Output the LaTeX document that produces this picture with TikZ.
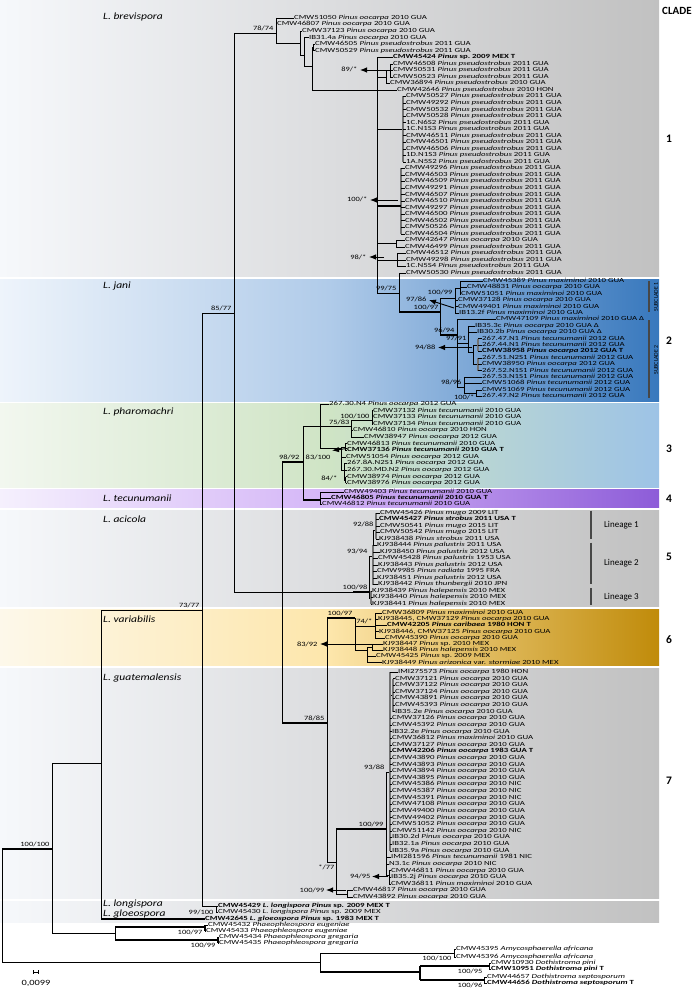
\documentclass[tikz,border=0pt]{standalone}
\usepackage{fontspec}
\setmainfont{Carlito}
\newfontfamily\leaffont[FakeStretch=1.4]{Carlito}
\newfontfamily\suppfont[FakeStretch=1.3]{Carlito}
\newfontfamily\specfont[FakeStretch=1.2]{Carlito}
\usetikzlibrary{arrows.meta,positioning}

\definecolor{BandGrayL}{HTML}{F6F8FB}
\definecolor{BandGrayM}{HTML}{DCDDDF}
\definecolor{BandGrayR}{HTML}{C1C1C1}
\definecolor{JaniL}{HTML}{EEF4FB}
\definecolor{JaniM}{HTML}{B0CBE9}
\definecolor{JaniR}{HTML}{3878BD}
\definecolor{PharoL}{HTML}{F2F7EF}
\definecolor{PharoM}{HTML}{CFE4C5}
\definecolor{PharoR}{HTML}{9DC3E6}
\definecolor{TecuL}{HTML}{F5F0FD}
\definecolor{TecuM}{HTML}{D4B5F7}
\definecolor{TecuR}{HTML}{8D5CD8}
\definecolor{VariL}{HTML}{FDF8EA}
\definecolor{VariM}{HTML}{FDE6AB}
\definecolor{VariR}{HTML}{C08B0A}

\newcommand{\Poo}{\textit{Pinus oocarpa}}
\newcommand{\Pps}{\textit{Pinus pseudostrobus}}
\newcommand{\Pte}{\textit{Pinus tecunumanii}}
\newcommand{\Pma}{\textit{Pinus maximinoi}}
\newcommand{\Ppa}{\textit{Pinus palustris}}
\newcommand{\Pha}{\textit{Pinus halepensis}}
\newcommand{\Pmu}{\textit{Pinus mugo}}
\newcommand{\Pst}{\textit{Pinus strobus}}
\newcommand{\Psp}{\textit{Pinus} sp.}

\tikzset{
    % isolate label
    leaf/.style={anchor=west, inner sep=0pt, text height=4pt, text depth=1.1pt,
        font=\leaffont\fontsize{6.3}{7}\selectfont},
    % support values
    support/.style={inner sep=0.4pt, text height=4.4pt, text depth=0.4pt,
        font=\suppfont\fontsize{6.5}{7}\selectfont},
    % branches
    branch/.style={line width=0.5pt},
    strong/.style={line width=1.4pt},
    poly/.style={line width=1.5pt, draw=black!55},
    % pointer to a support value
    callout/.style={-{Latex[length=7pt,width=5.5pt]}, line width=0.9pt},
    % species name
    species/.style={anchor=west, inner sep=0pt, font=\specfont\fontsize{9.6}{10}\selectfont\itshape},
    % clade number
    cladenum/.style={anchor=west, inner sep=0pt, font=\fontsize{11.5}{12}\selectfont\bfseries},
    % lineage and subclade bars
    groupbar/.style={line width=2.4pt, draw=black!72},
    grouplabel/.style={anchor=west, inner sep=0pt, font=\fontsize{9}{10}\selectfont}
}

\begin{document}
\begin{tikzpicture}[x=1pt, y=-1pt]
\useasboundingbox (0,0) rectangle (699,992);
\fill[white] (0,0) rectangle (699,992);

% clade bands
\shade[left color=BandGrayL, right color=BandGrayR, middle color=BandGrayM] (0,0) rectangle (659,276.5);
\shade[left color=JaniL, right color=JaniR, middle color=JaniM] (0,279) rectangle (659,401);
\shade[left color=PharoL, right color=PharoR, middle color=PharoM] (0,403.5) rectangle (659,487);
\shade[left color=TecuL, right color=TecuR, middle color=TecuM] (0,489.5) rectangle (659,507.5);
\shade[left color=BandGrayL, right color=BandGrayR, middle color=BandGrayM] (0,510) rectangle (659,606.5);
\shade[left color=VariL, right color=VariR, middle color=VariM] (0,609) rectangle (659,665.5);
\shade[left color=BandGrayL, right color=BandGrayR, middle color=BandGrayM] (0,668) rectangle (659,898.5);
\shade[left color=BandGrayL, right color=BandGrayR, middle color=BandGrayM] (0,901.5) rectangle (659,922);

% species names
\node[species] (nbre) at (103,17) {L. brevispora};
\node[species] (njan) at (103,286) {L. jani};
\node[species] (npha) at (103,412) {L. pharomachri};
\node[species] (ntec) at (103,498) {L. tecunumanii};
\node[species] (naci) at (103,519) {L. acicola};
\node[species] (nvar) at (103,619) {L. variabilis};
\node[species] (ngua) at (103,678) {L. guatemalensis};
\node[species] (nlon) at (103,904) {L. longispora};
\node[species] (nglo) at (103,914) {L. gloeospora};

% clade numbers
\node[cladenum, font=\fontsize{11}{12}\selectfont\bfseries] (clade) at (662,11) {CLADE};
\node[cladenum] (c1) at (666,139) {1};
\node[cladenum] (c2) at (666,341) {2};
\node[cladenum] (c3) at (666,449) {3};
\node[cladenum] (c4) at (666,499) {4};
\node[cladenum] (c5) at (666,557) {5};
\node[cladenum] (c6) at (666,640) {6};
\node[cladenum] (c7) at (666,781) {7};

% backbone
\draw[strong] (2,849) -- (52,849);
\draw[branch] (2,849) -- (2,962) -- (320,962)
  (52,763) -- (52,933)
  (52,763) -- (101,763)
  (101,610) -- (101,919)
  (101,610) -- (202,610)
  (202,313) -- (202,906) -- (216,906)
  (216,906) -- (216,912.5)
  (202,313) -- (234,313)
  (234,33) -- (234,592)
  (234,33) -- (276,33)
  (234,592) -- (353,592)
  (282,462) -- (282,723);
\draw[strong] (353,592) -- (369,592) (282,462) -- (303,462) (282,723) -- (327,723);
\node[support, anchor=south east] (s100r) at (50,847.5) {100/100};
\node[support, anchor=south east] (s7377) at (200,608.5) {73/77};
\node[support, anchor=south east] (s8577) at (232,311.5) {85/77};
\node[support, anchor=north east] (s99100) at (214,909) {99/100};

% clade 1
\draw[branch] (276,18) -- (276,43) -- (300,43)
  (300,31.1) -- (300,55) -- (304,55)
  (304,37.6) -- (304,66) -- (312,66)
  (312,47.5) -- (312,90)
  (312,47.5) -- (313,47.5)
  (313,44.2) -- (313,50.7)
  (312,90) -- (377,90)
  (377,57.2) -- (377,293) -- (399,293)
  (377,77) -- (386,77)
  (386,70.3) -- (386,83.4)
  (386,70.3) -- (390,70.3)
  (390,63.8) -- (390,76.9)
  (377,129) -- (403,129)
  (377,243.6) -- (396,243.6)
  (396,240.4) -- (396,246.9)
  (377,260) -- (397,260)
  (397,253.4) -- (397,266.5)
  (399,273) -- (399,312);
\draw[poly] (403,96.5) -- (403,161.9) (401,168.4) -- (401,233.8);
\draw[strong] (377,206) -- (401,206);
\foreach \px/\tx/\lab [count=\i from 0] in {
  276/294/{CMW51050 \Poo\ 2010 GUA},
  276/277/{CMW46807 \Poo\ 2010 GUA},
  300/302/{CMW37123 \Poo\ 2010 GUA},
  304/309/{IB31.4a \Poo\ 2010 GUA},
  313/315/{CMW46505 \Pps\ 2011 GUA},
  313/315/{CMW50529 \Pps\ 2011 GUA},
  377/393/{\textbf{CMW45424 \Psp\ 2009 MEX T}},
  390/393/{CMW46508 \Pps\ 2011 GUA},
  390/393/{CMW50531 \Pps\ 2011 GUA},
  390/393/{CMW50523 \Pps\ 2011 GUA},
  386/390/{CMW36894 \Pps\ 2010 GUA},
  377/397/{CMW42646 \Pps\ 2010 HON},
  403/406/{CMW50527 \Pps\ 2011 GUA},
  403/406/{CMW49292 \Pps\ 2011 GUA},
  403/406/{CMW50532 \Pps\ 2011 GUA},
  403/406/{CMW50528 \Pps\ 2011 GUA},
  403/406/{1C.N6S2 \Pps\ 2011 GUA},
  403/406/{1C.N1S3 \Pps\ 2011 GUA},
  403/406/{CMW46511 \Pps\ 2011 GUA},
  403/406/{CMW46501 \Pps\ 2011 GUA},
  403/406/{CMW46506 \Pps\ 2011 GUA},
  403/406/{1D.N1S3 \Pps\ 2011 GUA},
  403/406/{1A.N5S2 \Pps\ 2011 GUA},
  401/405/{CMW49296 \Pps\ 2011 GUA},
  401/405/{CMW46503 \Pps\ 2011 GUA},
  401/405/{CMW46509 \Pps\ 2011 GUA},
  401/405/{CMW49291 \Pps\ 2011 GUA},
  401/405/{CMW46507 \Pps\ 2011 GUA},
  401/405/{CMW46510 \Pps\ 2011 GUA},
  401/405/{CMW49297 \Pps\ 2011 GUA},
  401/405/{CMW46500 \Pps\ 2011 GUA},
  401/405/{CMW46502 \Pps\ 2011 GUA},
  401/405/{CMW50526 \Pps\ 2011 GUA},
  401/405/{CMW46504 \Pps\ 2011 GUA},
  396/405/{CMW42647 \Poo\ 2010 GUA},
  396/405/{CMW46499 \Pps\ 2011 GUA},
  397/406/{CMW46512 \Pps\ 2011 GUA},
  397/406/{CMW49298 \Pps\ 2011 GUA},
  397/406/{1C.N5S4 \Pps\ 2011 GUA},
  399/406/{CMW50530 \Pps\ 2011 GUA}}{
  \pgfmathsetmacro\yy{18+6.54*\i}
  \node[leaf] (br\i) at (\tx,\yy) {\lab};
  \draw[branch] (\px,\yy) -- (br\i.west);
}
\node[support, anchor=south east] (s7874) at (274,32) {78/74};
\draw[callout] (387,70) -- (360,70);
\node[support, anchor=east] (s89) at (358,70) {89/*};
\draw[callout] (398,200) -- (370,200);
\node[support, anchor=east] (s100a) at (368,200) {100/*};
\draw[callout] (384,257) -- (369,257);
\node[support, anchor=east] (s98) at (367,257) {98/*};
\node[support, anchor=south east] (s9975) at (397,291.5) {99/75};

% clade 2
\draw[strong] (399,312) -- (440,312) (440,335) -- (457,335);
\draw[branch] (440,298) -- (440,335)
  (440,298) -- (455,298)
  (455,288) -- (455,313)
  (455,288) -- (460,288)
  (460,281) -- (460,293.8)
  (457,319.4) -- (457,387)
  (457,343) -- (468,343)
  (468,325.8) -- (468,352) -- (473,352)
  (473,345) -- (473,364)
  (473,345) -- (478,345)
  (473,364) -- (478,364)
  (457,387) -- (464,387)
  (464,377) -- (464,393) -- (476,393)
  (476,389.8) -- (476,396.2);
\draw[poly] (478,338.6) -- (478,351.4) (478,357.8) -- (478,370.6);
\foreach \px/\tx/\lab [count=\i from 0] in {
  460/483/{CMW45389 \Pma\ 2010 GUA},
  460/467/{CMW48831 \Poo\ 2010 GUA},
  460/461/{CMW51051 \Pma\ 2010 GUA},
  455/458/{CMW37128 \Poo\ 2010 GUA},
  455/458/{CMW49401 \Pma\ 2010 GUA},
  455/459/{IB13.2f \Pma\ 2010 GUA},
  457/496/{CMW47109 \Pma\ 2010 GUA Δ},
  468/475/{IB35.3c \Poo\ 2010 GUA Δ},
  468/477/{IB30.2b \Poo\ 2010 GUA Δ},
  478/482/{267.47.N1 \Pte\ 2012 GUA},
  478/482/{267.44.N1 \Pte\ 2012 GUA},
  478/482/{\textbf{CMW38958 \Poo\ 2012 GUA T}},
  478/482/{267.51.N2S1 \Pte\ 2012 GUA},
  478/482/{CMW38950 \Poo\ 2012 GUA},
  478/482/{267.52.N1S1 \Pte\ 2012 GUA},
  464/482/{267.53.N1S1 \Pte\ 2012 GUA},
  464/482/{CMW51068 \Pte\ 2012 GUA},
  476/482/{CMW51069 \Pte\ 2012 GUA},
  476/482/{267.47.N2 \Pte\ 2012 GUA}}{
  \pgfmathsetmacro\yy{281+6.4*\i}
  \node[leaf] (ja\i) at (\tx,\yy) {\lab};
  \draw[branch] (\px,\yy) -- (ja\i.west);
}
\node[support, anchor=south east] (s10097a) at (439,310.5) {100/97};
\node[support, anchor=east] (s10099a) at (453,292.5) {100/99};
\draw[callout] (454,308) -- (429,300);
\node[support, anchor=east] (s9786) at (427,299) {97/86};
\node[support, anchor=south east] (s9694) at (455,333.5) {96/94};
\node[support, anchor=south east] (s9791) at (467,341.5) {97/91};
\draw[callout] (472,347.5) -- (438,347.5);
\node[support, anchor=east] (s9488) at (436,347.5) {94/88};
\node[support, anchor=south east] (s9896) at (462,385.5) {98/96};
\node[support, anchor=east] (s100b) at (475,397.5) {100/*};
\draw[groupbar] (649,281) -- (649,312) (649,320) -- (649,398);
\node[rotate=90, inner sep=0pt, font=\fontsize{5.8}{6}\selectfont] (sub1) at (656,297) {SUBCLADE 1};
\node[rotate=90, inner sep=0pt, font=\fontsize{5.8}{6}\selectfont] (sub2) at (656,360) {SUBCLADE 2};

% clade 3
\draw[branch] (303,426) -- (303,500)
  (303,426) -- (351,426)
  (320,404) -- (320,448) -- (341,448)
  (351,420) -- (351,437)
  (351,420) -- (372,420)
  (372,410.6) -- (372,423.8)
  (341,447) -- (341,470) -- (344,470)
  (341,447) -- (345,447)
  (345,443.6) -- (345,450.2)
  (344,463.4) -- (344,480) -- (345.5,480)
  (345.5,476.6) -- (345.5,483.2);
\foreach \px/\tx/\lab [count=\i from 0] in {
  320/329/{267.30.N4 \Poo\ 2012 GUA},
  372/373/{CMW37132 \Pte\ 2010 GUA},
  372/373/{CMW37133 \Pte\ 2010 GUA},
  372/373/{CMW37134 \Pte\ 2010 GUA},
  351/353/{CMW46810 \Poo\ 2010 HON},
  351/364/{CMW38947 \Poo\ 2012 GUA},
  345/347/{CMW46813 \Pte\ 2010 GUA},
  345/347/{\textbf{CMW37136 \Pte\ 2010 GUA T}},
  341/346/{CMW51054 \Poo\ 2012 GUA},
  344/347/{267.8A.N2S1 \Poo\ 2012 GUA},
  344/347/{267.30.MD.N2 \Poo\ 2012 GUA},
  345.5/347/{CMW38974 \Poo\ 2012 GUA},
  345.5/347/{CMW38976 \Poo\ 2012 GUA}}{
  \pgfmathsetmacro\yy{404+6.6*\i}
  \node[leaf] (ph\i) at (\tx,\yy) {\lab};
  \draw[branch] (\px,\yy) -- (ph\i.west);
}
\node[support, anchor=south east] (s9892) at (300,460) {98/92};
\node[support, anchor=south east] (s7583) at (350,425.5) {75/83};
\node[support, anchor=south east] (s100100) at (370,419) {100/100};
\draw[callout] (347,448.5) -- (332,450.5);
\node[support, anchor=east] (s83100) at (331,457) {83/100};
\node[support, anchor=east] (s84) at (338,478) {84/*};

% clade 4
\draw[strong] (303,500) -- (320,500);
\draw[branch] (320,492) -- (320,504);
\foreach \y/\px/\tx/\lab [count=\i] in {
  492/320/344/{CMW49403 \Pte\ 2010 GUA},
  498/320/331/{\textbf{CMW46805 \Pte\ 2010 GUA T}},
  504/320/322/{CMW46812 \Pte\ 2010 GUA}}{
  \node[leaf] (te\i) at (\tx,\y) {\lab};
  \draw[branch] (\px,\y) -- (te\i.west);
}

% clade 5
\draw[branch] (369,556) -- (369,598) -- (371,598)
  (369,556) -- (373,556)
  (373,530) -- (373,545)
  (373,530) -- (376,530);
\draw[poly] (371,591) -- (371,604) (373,545) -- (373,584.5) (376,513) -- (376,539);
\foreach \px/\tx/\lab [count=\i from 0] in {
  376/380/{CMW45426 \Pmu\ 2009 LIT},
  376/379/{\textbf{CMW45427 \Pst\ 2011 USA T}},
  376/380/{CMW50541 \Pmu\ 2015 LIT},
  376/380/{CMW50542 \Pmu\ 2015 LIT},
  376/379/{KJ938438 \Pst\ 2011 USA},
  373/377/{KJ938444 \Ppa\ 2011 USA},
  373/380/{KJ938450 \Ppa\ 2012 USA},
  373/378/{CMW45428 \Ppa\ 1953 USA},
  373/378/{KJ938443 \Ppa\ 2012 USA},
  373/377/{CMW9985 \textit{Pinus radiata} 1995 FRA},
  373/377/{KJ938451 \Ppa\ 2012 USA},
  373/378/{KJ938442 \textit{Pinus thunbergii} 2010 JPN},
  371/372/{KJ938439 \Pha\ 2010 MEX},
  371/373/{KJ938440 \Pha\ 2010 MEX},
  371/372/{KJ938441 \Pha\ 2010 MEX}}{
  \pgfmathsetmacro\yy{513+6.5*\i}
  \node[leaf] (ac\i) at (\tx,\yy) {\lab};
  \draw[branch] (\px,\yy) -- (ac\i.west);
}
\node[support, anchor=south east] (s10098) at (368,590) {100/98};
\node[support, anchor=south east] (s9394) at (368,554) {93/94};
\node[support, anchor=east] (s9288) at (374,524) {92/88};
\draw[groupbar] (591,510.5) -- (591,539) (591,542.5) -- (591,584) (591,588) -- (591,604.5);
\node[grouplabel] (lin1) at (604,525) {Lineage 1};
\node[grouplabel] (lin2) at (604,563) {Lineage 2};
\node[grouplabel] (lin3) at (604,597) {Lineage 3};

% clade 6
\draw[strong] (327,618) -- (355,618);
\draw[branch] (327,618) -- (327,862) -- (336,862)
  (355,618) -- (355,650) -- (367,650)
  (355,626) -- (375,626)
  (375,613) -- (375,637.8)
  (367,647) -- (367,662.6)
  (367,647) -- (372,647)
  (372,644) -- (372,650.2);
\foreach \px/\tx/\lab [count=\i from 0] in {
  375/382/{CMW36809 \Pma\ 2010 GUA},
  375/378/{KJ938445, CMW37129 \Poo\ 2010 GUA},
  375/387/{\textbf{CMW42205 \textit{Pinus caribaea} 1980 HON T}},
  375/379/{KJ938446, CMW37125 \Poo\ 2010 GUA},
  375/385/{CMW45390 \Poo\ 2010 GUA},
  372/383/{KJ938447 \Psp\ 2010 MEX},
  372/383/{KJ938448 \Pha\ 2010 MEX},
  367/376/{CMW45425 \Psp\ 2009 MEX},
  367/382/{KJ938449 \textit{Pinus arizonica} var. \textit{stormiae} 2010 MEX}}{
  \pgfmathsetmacro\yy{613+6.2*\i}
  \node[leaf] (va\i) at (\tx,\yy) {\lab};
  \draw[branch] (\px,\yy) -- (va\i.west);
}
\node[support, anchor=south east] (s7885) at (325,721) {78/85};
\node[support, anchor=south east] (s10097b) at (353,616) {100/97};
\node[support, anchor=south east] (s74) at (373,624.5) {74/*};
\draw[callout] (376,644) -- (320,644);
\node[support, anchor=east] (s8392) at (318,644) {83/92};

% clade 7
\draw[strong] (336,829) -- (386,829);
\draw[branch] (336,829) -- (336,894) -- (347,894)
  (347,890.5) -- (347,897.1)
  (386,772) -- (386,875) -- (389,875)
  (386,772) -- (390,772)
  (389,870.6) -- (389,883.8)
  (390,695) -- (393,695);
\draw[poly] (390,672) -- (390,850.7) (393,678.6) -- (393,711.7);
\foreach \px/\tx/\lab [count=\i from 0] in {
  390/398/{IMI275573 \Poo\ 1980 HON},
  393/395/{CMW37121 \Poo\ 2010 GUA},
  393/395/{CMW37122 \Poo\ 2010 GUA},
  393/395/{CMW37124 \Poo\ 2010 GUA},
  393/395/{CMW43891 \Poo\ 2010 GUA},
  393/395/{CMW45393 \Poo\ 2010 GUA},
  393/395/{IB35.2e \Poo\ 2010 GUA},
  390/392/{CMW37126 \Poo\ 2010 GUA},
  390/392/{CMW45392 \Poo\ 2010 GUA},
  390/392/{IB32.2e \Poo\ 2010 GUA},
  390/392/{CMW36812 \Pma\ 2010 GUA},
  390/392/{CMW37127 \Poo\ 2010 GUA},
  390/392/{\textbf{CMW42206 \Poo\ 1983 GUA T}},
  390/392/{CMW43890 \Poo\ 2010 GUA},
  390/392/{CMW43893 \Poo\ 2010 GUA},
  390/392/{CMW43894 \Poo\ 2010 GUA},
  390/392/{CMW43895 \Poo\ 2010 GUA},
  390/392/{CMW45386 \Poo\ 2010 NIC},
  390/392/{CMW45387 \Poo\ 2010 NIC},
  390/392/{CMW45391 \Poo\ 2010 NIC},
  390/392/{CMW47108 \Poo\ 2010 GUA},
  390/392/{CMW49400 \Poo\ 2010 GUA},
  390/392/{CMW49402 \Poo\ 2010 GUA},
  390/392/{CMW51052 \Poo\ 2010 GUA},
  390/392/{CMW51142 \Poo\ 2010 NIC},
  390/392/{IB30.2d \Poo\ 2010 GUA},
  390/392/{IB32.1a \Poo\ 2010 GUA},
  390/392/{IB35.9a \Poo\ 2010 GUA},
  386/391/{IMI281596 \Pte\ 1981 NIC},
  386/389/{N3.1c \Poo\ 2010 NIC},
  389/391/{CMW46811 \Poo\ 2010 GUA},
  389/391/{IB35.2j \Poo\ 2010 GUA},
  389/391/{CMW36811 \Pma\ 2010 GUA},
  347/353/{CMW46817 \Poo\ 2010 GUA},
  347/353/{CMW43892 \Poo\ 2010 GUA}}{
  \pgfmathsetmacro\yy{672+6.62*\i}
  \node[leaf] (gu\i) at (\tx,\yy) {\lab};
  \draw[branch] (\px,\yy) -- (gu\i.west);
}
\node[support, anchor=south east] (s9388) at (385,770) {93/88};
\node[support, anchor=south east] (s10099b) at (384,827) {100/99};
\node[support, anchor=north east] (s77) at (335,864) {*/77};
\draw[callout] (388,876.5) -- (372,876.5);
\node[support, anchor=east] (s9495) at (371,876.5) {94/95};
\draw[callout] (346,890) -- (326,890);
\node[support, anchor=east] (s10099c) at (325,890) {100/99};

% L. longispora and L. gloeospora
\foreach \y/\tx/\lab [count=\i] in {
  906/218/{\textbf{CMW45429 \textit{L. longispora Pinus} sp. 2009 MEX T}},
  912.5/218/{CMW45430 \textit{L. longispora Pinus} sp. 2009 MEX}}{
  \node[leaf] (lo\i) at (\tx,\y) {\lab};
  \draw[branch] (216,\y) -- (lo\i.west);
}
\node[leaf] (gl) at (205,919) {\textbf{CMW42645 \textit{L. gloeospora Pinus} sp. 1983 MEX T}};
\draw[strong] (101,919) -- (gl.west);

% Phaeophleospora
\draw[branch] (52,933) -- (115,933) (115,927) -- (115,940);
\draw[strong] (115,927) -- (205,927) (205,925) -- (205,931) (115,940) -- (218,940) (218,937) -- (218,943);
\foreach \y/\px/\tx/\lab [count=\i] in {
  925/205/208/{CMW45432 \textit{Phaeophleospora eugeniae}},
  931/205/206/{CMW45433 \textit{Phaeophleospora eugeniae}},
  937/218/219/{CMW45434 \textit{Phaeophleospora gregaria}},
  943/218/219/{CMW45435 \textit{Phaeophleospora gregaria}}}{
  \node[leaf] (pp\i) at (\tx,\y) {\lab};
  \draw[branch] (\px,\y) -- (pp\i.west);
}
\node[support, anchor=north east] (s10097c) at (203,929.5) {100/97};
\node[support, anchor=north east] (s10099d) at (216,942.5) {100/99};

% outgroup
\draw[branch] (320,953) -- (320,972) (320,953) -- (454,953) (454,949) -- (454,957)
  (489,963) -- (489,969) (484,977) -- (484,983);
\draw[strong] (320,972) -- (420,972) (420,966) -- (420,980) (420,966) -- (489,966) (420,980) -- (484,980);
\foreach \y/\px/\tx/\lab [count=\i] in {
  949/454/456/{CMW45395 \textit{Amycosphaerella africana}},
  957/454/456/{CMW45396 \textit{Amycosphaerella africana}},
  963/489/491/{CMW10930 \textit{Dothistroma pini}},
  969/489/491/{\textbf{CMW10951 \textit{Dothistroma pini} T}},
  977/484/487/{CMW44657 \textit{Dothistroma septosporum}},
  983/484/487/{\textbf{CMW44656 \textit{Dothistroma septosporum} T}}}{
  \node[leaf] (og\i) at (\tx,\y) {\lab};
  \draw[branch] (\px,\y) -- (og\i.west);
}
\node[support, anchor=north east] (s100100b) at (452,955.5) {100/100};
\node[support, anchor=north east] (s10095) at (483,968) {100/95};
\node[support, anchor=north east] (s10096) at (483,982) {100/96};

% scale bar
\draw[branch] (33,972) -- (38,972) (33,970) -- (33,974) (38,970) -- (38,974);
\node[inner sep=0.4pt, font=\suppfont\fontsize{8}{9}\selectfont] (scale) at (36,983) {0,0099};
\end{tikzpicture}
\end{document}
